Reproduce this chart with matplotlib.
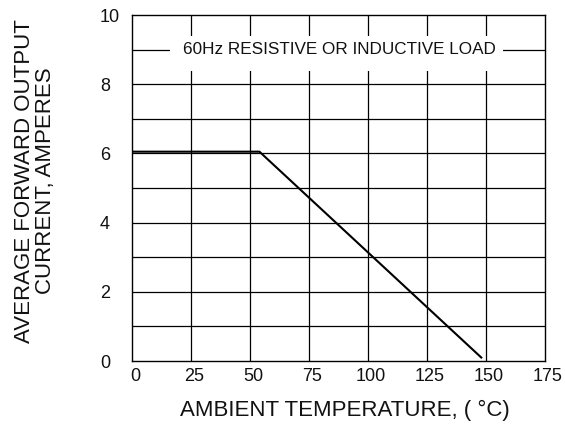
import numpy as np
import matplotlib
matplotlib.use("Agg")
import matplotlib.pyplot as plt
import matplotlib.transforms as mtransforms
from matplotlib.patches import Rectangle

plt.rcParams['font.family'] = ['Liberation Sans', 'DejaVu Sans']

# derating curve: ambient temperature (C) vs average forward current (A)
temp = [0, 54, 148]
current = [6.05, 6.05, 0.1]

x_ticks = [0, 25, 50, 75, 100, 125, 150, 175]
y_ticks = [0, 2, 4, 6, 8, 10]
y_grid = [1, 2, 3, 4, 5, 6, 7, 8, 9]
x_grid = [25, 50, 75, 100, 125, 150]

W, H = 565, 425
fig = plt.figure(figsize=(W/100, H/100), dpi=100)
ax = fig.add_axes([132/W, 1 - 361/H, 413/W, 346/H])

ax.set_xlim(0, 175)
ax.set_ylim(0, 10)

# grid
for gx in x_grid:
    ax.axvline(gx, color='black', lw=0.9, zorder=1)
for gy in y_grid:
    ax.axhline(gy, color='black', lw=0.9, zorder=1)

# white box behind the note
ax.add_patch(Rectangle((16, 8.38), 141, 1.01, facecolor='white', edgecolor='none', zorder=2))
ax.text(88, 9.0, "60Hz RESISTIVE OR INDUCTIVE LOAD", ha='center', va='center',
        fontsize=12.3, color='#111111', zorder=3)

ax.plot(temp, current, color='black', lw=1.5, zorder=4)

ax.set_xticks(x_ticks)
ax.set_yticks(y_ticks)
ax.tick_params(axis='x', length=0, labelsize=13, pad=5, labelcolor='#111111')
ax.tick_params(axis='y', length=0, labelsize=13, pad=23, labelcolor='#111111')
for lab in ax.get_yticklabels():
    lab.set_horizontalalignment('left')
# x labels sit a little to the right of the grid lines
shift = mtransforms.ScaledTranslation(3/100, 0, fig.dpi_scale_trans)
for lab in ax.get_xticklabels():
    lab.set_transform(lab.get_transform() + shift)
for s in ax.spines.values():
    s.set_linewidth(1.0)

fig.text(345/W, 1 - 410/H, "AMBIENT TEMPERATURE, ( °C)", ha='center', va='center',
         fontsize=16, color='#111111')
fig.text(35/W, 1 - 181/H, "AVERAGE FORWARD OUTPUT\nCURRENT, AMPERES", ha='center',
         va='center', rotation=90, multialignment='center', linespacing=1.0,
         fontsize=16, color='#111111')

fig.savefig("out.png", dpi=100)
